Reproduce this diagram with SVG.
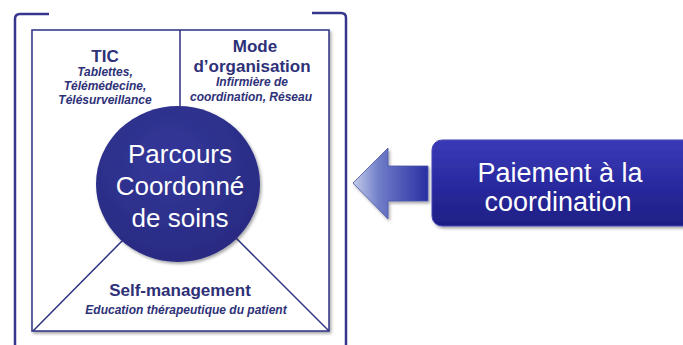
<svg xmlns="http://www.w3.org/2000/svg" width="683" height="345" viewBox="0 0 683 345">
  <defs>
    <radialGradient id="circGrad" cx="0.45" cy="0.35" r="0.7">
      <stop offset="0" stop-color="#33389a"/>
      <stop offset="1" stop-color="#282a80"/>
    </radialGradient>
    <linearGradient id="boxGrad" x1="0" y1="0" x2="0" y2="1">
      <stop offset="0" stop-color="#3a3ab8"/>
      <stop offset="0.5" stop-color="#2a2aa0"/>
      <stop offset="1" stop-color="#1e1e85"/>
    </linearGradient>
    <linearGradient id="arrowGrad" x1="0" y1="0" x2="1" y2="0">
      <stop offset="0" stop-color="#c4cde8"/>
      <stop offset="0.35" stop-color="#6f7dc8"/>
      <stop offset="1" stop-color="#2a2fa2"/>
    </linearGradient>
    <filter id="shadow" x="-10%" y="-10%" width="130%" height="130%">
      <feDropShadow dx="1.5" dy="2" stdDeviation="1.5" flood-color="#000" flood-opacity="0.35"/>
    </filter>
  </defs>
  <style>
    .bracket { fill: none; stroke: #36368e; stroke-width: 2.5; }
    .line { fill: none; stroke: #2e3182; stroke-width: 1.5; }
    .head { font-family: "Liberation Sans", Arial, sans-serif; font-weight: bold; fill: #2e3178; text-anchor: middle; font-size: 17px; }
    .sub { font-family: "Liberation Sans", Arial, sans-serif; font-weight: bold; font-style: italic; fill: #2e3178; text-anchor: middle; font-size: 12px; }
    .white { font-family: "Liberation Sans", Arial, sans-serif; fill: #ffffff; text-anchor: middle; }
  </style>
  <rect width="683" height="345" fill="#ffffff"/>

  <g id="frame">
    <path class="bracket" d="M49,14 L20,14 Q15,14 15,19 L15,345"/>
    <path class="bracket" d="M312,13 L341,13 Q346,13 346,18 L346,345"/>
    <rect x="32" y="30" width="297" height="301" fill="#ffffff" stroke="#2e3182" stroke-width="1.5" filter="url(#shadow)"/>
  </g>

  <g id="connectors">
    <line class="line" x1="180" y1="30" x2="180" y2="106"/>
    <line class="line" x1="123" y1="240" x2="33" y2="331"/>
    <line class="line" x1="236" y1="238" x2="329" y2="331"/>
  </g>

  <g id="tic">
    <text class="head" x="105" y="62">TIC</text>
    <text class="sub" x="105" y="76">Tablettes,</text>
    <text class="sub" x="105" y="90">Télémédecine,</text>
    <text class="sub" x="105" y="104">Télésurveillance</text>
  </g>

  <g id="mode">
    <text class="head" x="255" y="52">Mode</text>
    <text class="head" x="252" y="72">d’organisation</text>
    <text class="sub" x="252" y="86">Infirmière de</text>
    <text class="sub" x="251" y="101">coordination, Réseau</text>
  </g>

  <g id="parcours">
    <ellipse cx="178" cy="184" rx="82" ry="78" fill="url(#circGrad)" filter="url(#shadow)"/>
    <text class="white" x="180" y="163" font-size="26">Parcours</text>
    <text class="white" x="180" y="195" font-size="26">Coordonné</text>
    <text class="white" x="180" y="227" font-size="26">de soins</text>
  </g>

  <g id="self">
    <text class="head" x="180" y="296">Self-management</text>
    <text class="sub" x="186" y="314">Education thérapeutique du patient</text>
  </g>

  <g id="arrow">
    <polygon points="353,183 388,148 388,166 428,166 428,201 388,201 388,219" fill="url(#arrowGrad)" stroke="#4a55a8" stroke-width="0.8" filter="url(#shadow)"/>
  </g>

  <g id="paiement">
    <rect x="432" y="140" width="270" height="86" rx="10" ry="10" fill="url(#boxGrad)" stroke="#4545b5" stroke-width="1" filter="url(#shadow)"/>
    <text class="white" x="560" y="182" font-size="27">Paiement à la</text>
    <text class="white" x="558" y="211" font-size="27">coordination</text>
  </g>
</svg>
